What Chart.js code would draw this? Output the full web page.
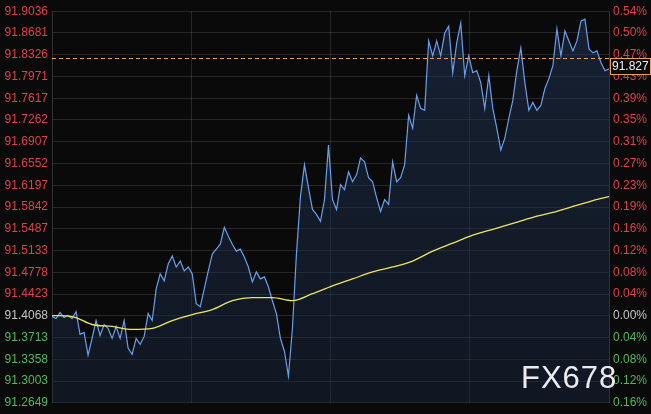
<!DOCTYPE html>
<html lang="en">
<head>
    <meta charset="UTF-8">
    <title>USD Index</title>
    <script src="https://cdn.jsdelivr.net/npm/chart.js"></script>
    <style>
        body { margin: 0; background: #0a0a0a; }
        #wrap { width: 651px; height: 414px; }
    </style>
</head>
<body>
<div id="wrap"><canvas id="chart" width="651" height="414"></canvas></div>
<script>
    // price ticks on the left, % change on the right
    const tickValues = [91.9036, 91.8681, 91.8326, 91.7971, 91.7617, 91.7262, 91.6907, 91.6552, 91.6197,
        91.5842, 91.5487, 91.5133, 91.4778, 91.4423, 91.4068, 91.3713, 91.3358, 91.3003, 91.2649];
    const pctLabels = ['0.54%', '0.50%', '0.47%', '0.43%', '0.39%', '0.35%', '0.31%', '0.27%', '0.23%',
        '0.19%', '0.16%', '0.12%', '0.08%', '0.04%', '0.00%', '0.04%', '0.08%', '0.12%', '0.16%'];
    const baseValue = 91.4068;
    const lastPrice = 91.827;
    const lastLabel = '91.827';

    // intraday price, one value per step
    const prices = [
        91.4056, 91.4023, 91.4120, 91.4039, 91.4072, 91.4023, 91.4136, 91.3765, 91.3797, 91.3425,
        91.3700, 91.3991, 91.3748, 91.3926, 91.3862, 91.3700, 91.3894, 91.3700, 91.3991, 91.3538,
        91.3441, 91.3700, 91.3603, 91.3732, 91.4104, 91.3991, 91.4508, 91.4751, 91.4638, 91.4913,
        91.5042, 91.4864, 91.4961, 91.4799, 91.4864, 91.4751, 91.4266, 91.4217, 91.4508, 91.4799,
        91.5074, 91.5155, 91.5236, 91.5511, 91.5365, 91.5236, 91.5123, 91.5155, 91.5026, 91.4864,
        91.4622, 91.4783, 91.4670, 91.4702, 91.4541, 91.4314, 91.4104, 91.3700, 91.3490, 91.3085,
        91.3862, 91.5074, 91.6012, 91.6530, 91.6158, 91.5802, 91.5721, 91.5608, 91.5964, 91.6853,
        91.5964, 91.5802, 91.6206, 91.6125, 91.6416, 91.6255, 91.6368, 91.6643, 91.6578, 91.6319,
        91.6255, 91.5996, 91.5770, 91.5964, 91.5883, 91.6578, 91.6255, 91.6319, 91.6530, 91.7338,
        91.7128, 91.7662, 91.7451, 91.7419, 91.8551, 91.8308, 91.8551, 91.8308, 91.8680, 91.8793,
        91.8033, 91.8519, 91.8842, 91.7985, 91.8308, 91.8033, 91.8066, 91.7872, 91.7451, 91.7985,
        91.7451, 91.7128, 91.6772, 91.6966, 91.7290, 91.7581, 91.8066, 91.8438, 91.7872, 91.7419,
        91.7548, 91.7419, 91.7500, 91.7775, 91.7936, 91.8147, 91.8745, 91.8308, 91.8713, 91.8551,
        91.8389, 91.8551, 91.8874, 91.8907, 91.8422, 91.8357, 91.8389, 91.8195, 91.8066, 91.8098
    ];

    // moving average, read every 5 steps
    const maSteps = [0, 5, 10, 15, 20, 25, 30, 35, 40, 45, 50, 55, 60, 65, 70, 75, 80, 85, 90, 95,
        100, 105, 110, 115, 120, 125, 130, 135, 139];
    const maValues = [91.4072, 91.4056, 91.3926, 91.3894, 91.3845, 91.3862, 91.3991, 91.4088, 91.4169, 91.4314,
        91.4363, 91.4363, 91.4314, 91.4428, 91.4557, 91.4670, 91.4783, 91.4864, 91.4961, 91.5123,
        91.5252, 91.5382, 91.5479, 91.5576, 91.5673, 91.5753, 91.5851, 91.5948, 91.6012];

    const RED = '#e0404a', GREEN = '#52b85e', GREY = '#c4c4c4';
    const GRID = 'rgba(255,255,255,0.12)';

    function tickColor(ctx) {
        const v = ctx.tick.value;
        if (Math.abs(v - baseValue) < 1e-6) return GREY;
        return v > baseValue ? RED : GREEN;
    }

    // dashed last-price line, price box and watermark
    const overlay = {
        id: 'overlay',
        afterDatasetsDraw(chart) {
            const c = chart.ctx, area = chart.chartArea;
            const y = chart.scales.y.getPixelForValue(lastPrice);
            c.save();
            c.strokeStyle = '#e8a050';
            c.lineWidth = 1;
            c.setLineDash([4, 3]);
            c.beginPath();
            c.moveTo(area.left, Math.round(y) + 0.5);
            c.lineTo(area.right, Math.round(y) + 0.5);
            c.stroke();
            c.restore();
        },
        afterDraw(chart) {
            const c = chart.ctx, area = chart.chartArea;
            const y = Math.round(chart.scales.y.getPixelForValue(lastPrice));
            c.save();
            c.fillStyle = '#0a0a0a';
            c.fillRect(area.right + 1, y, 41, 17);
            c.strokeStyle = '#e8a050';
            c.lineWidth = 1;
            c.strokeRect(area.right + 1.5, y + 0.5, 40, 16);
            c.fillStyle = '#f0f0f0';
            c.font = '12px "Liberation Sans", Arial, sans-serif';
            c.textBaseline = 'middle';
            c.fillText(lastLabel, area.right + 3, y + 9);

            c.fillStyle = 'rgba(255,255,255,0.92)';
            c.font = '31px "Liberation Sans", Arial, sans-serif';
            c.textBaseline = 'alphabetic';
            if ('letterSpacing' in c) c.letterSpacing = '1px';
            c.fillText('FX678', 521, 388);
            c.restore();
        }
    };

    const ctx = document.getElementById('chart').getContext('2d');
    new Chart(ctx, {
        type: 'line',
        data: {
            datasets: [{
                label: 'Price',
                order: 1,
                data: prices.map((p, i) => ({ x: i, y: p })),
                borderColor: '#6a9fec',
                borderWidth: 1.2,
                pointRadius: 0,
                tension: 0,
                fill: 'start',
                backgroundColor: function(context) {
                    const area = context.chart.chartArea;
                    if (!area) return 'rgba(30,50,85,0.4)';
                    const g = context.chart.ctx.createLinearGradient(0, area.top, 0, area.bottom);
                    g.addColorStop(0, 'rgba(35,55,90,0.5)');
                    g.addColorStop(1, 'rgba(25,40,65,0.45)');
                    return g;
                }
            }, {
                label: 'MA',
                order: 0,
                data: maSteps.map((s, i) => ({ x: s, y: maValues[i] })),
                borderColor: '#ece65c',
                borderWidth: 1.3,
                pointRadius: 0,
                cubicInterpolationMode: 'monotone',
                fill: false
            }]
        },
        options: {
            responsive: false,
            animation: false,
            events: [],
            layout: { padding: { top: 10, bottom: 9, left: 0, right: 0 } },
            plugins: { legend: { display: false }, tooltip: { enabled: false } },
            scales: {
                x: {
                    type: 'linear',
                    min: 0,
                    max: prices.length - 1,
                    afterBuildTicks: scale => {
                        const n = prices.length - 1;
                        scale.ticks = [0, 1, 2, 3, 4].map(k => ({ value: n * k / 4 }));
                    },
                    afterFit: scale => { scale.height = 0; },
                    ticks: { display: false },
                    grid: { color: GRID, drawTicks: false },
                    border: { display: false }
                },
                y: {
                    position: 'left',
                    min: 91.2649,
                    max: 91.9036,
                    afterBuildTicks: scale => { scale.ticks = tickValues.map(v => ({ value: v })); },
                    afterFit: scale => { scale.width = 52; },
                    ticks: {
                        padding: 4,
                        color: tickColor,
                        font: { family: '"Liberation Sans", Arial, sans-serif', size: 12 },
                        callback: v => v.toFixed(4)
                    },
                    grid: { color: GRID, drawTicks: false },
                    border: { color: '#333' }
                },
                y2: {
                    position: 'right',
                    min: 91.2649,
                    max: 91.9036,
                    afterBuildTicks: scale => { scale.ticks = tickValues.map(v => ({ value: v })); },
                    afterFit: scale => { scale.width = 42; },
                    ticks: {
                        padding: 4,
                        color: tickColor,
                        font: { family: '"Liberation Sans", Arial, sans-serif', size: 12 },
                        callback: v => {
                            const i = tickValues.findIndex(t => Math.abs(t - v) < 1e-6);
                            return i >= 0 ? pctLabels[i] : '';
                        }
                    },
                    grid: { display: false, drawTicks: false },
                    border: { color: '#333' }
                }
            }
        },
        plugins: [overlay]
    });
</script>
</body>
</html>
